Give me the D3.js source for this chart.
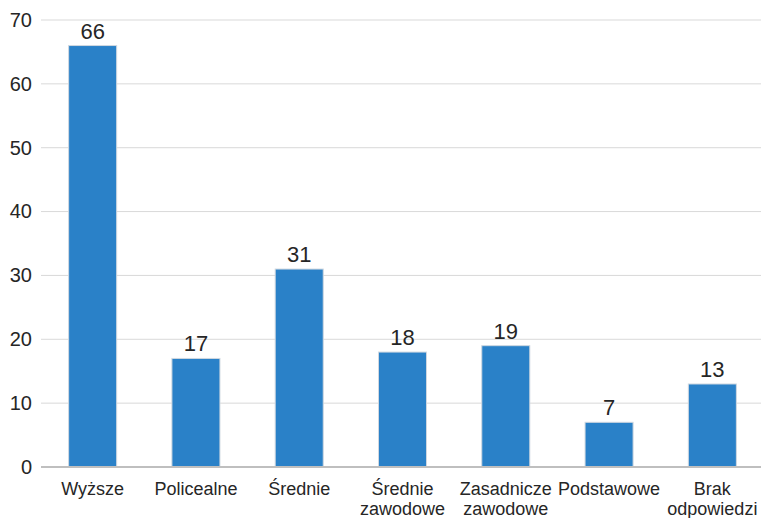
<!DOCTYPE html>
<html>
<head>
<meta charset="utf-8">
<script src="https://cdn.jsdelivr.net/npm/d3@7/dist/d3.min.js"></script>
<style>
  html, body { margin: 0; padding: 0; background: #fff; }
  svg { display: block; font-family: "Liberation Sans", Arial, sans-serif; }
</style>
</head>
<body>
<svg id="chart" width="761" height="518"></svg>
<script>
// Education levels and respondent counts
const categories = [
  ["Wyższe"],
  ["Policealne"],
  ["Średnie"],
  ["Średnie", "zawodowe"],
  ["Zasadnicze", "zawodowe"],
  ["Podstawowe"],
  ["Brak", "odpowiedzi"]
];
const values = [66, 17, 31, 18, 19, 7, 13];
const yTicks = [0, 10, 20, 30, 40, 50, 60, 70];

const W = 761, H = 518;
const margin = { left: 41, top: 20, bottom: 51 };

const svg = d3.select("#chart");

// Band range runs slightly past the right edge so the last bar sits like the rest
const x = d3.scaleBand()
  .domain(d3.range(categories.length))
  .range([margin.left, 764])
  .paddingInner(0.535)
  .paddingOuter(0.2675);

const y = d3.scaleLinear()
  .domain([0, 70])
  .range([H - margin.bottom, margin.top]);

// Horizontal gridlines
svg.append("g")
  .selectAll("line")
  .data(yTicks.filter(t => t > 0))
  .join("line")
  .attr("x1", margin.left)
  .attr("x2", W)
  .attr("y1", d => y(d))
  .attr("y2", d => y(d))
  .attr("stroke", "#d9d9d9")
  .attr("stroke-width", 1);

// Y axis labels
const yAxis = d3.axisLeft(y).tickValues(yTicks).tickSize(0).tickPadding(9);
const yg = svg.append("g")
  .attr("transform", `translate(${margin.left},0)`)
  .call(yAxis);
yg.select(".domain").remove();
yg.selectAll("text")
  .attr("font-size", 20)
  .attr("font-family", "Liberation Sans, Arial, sans-serif")
  .attr("fill", "#262626");

// Bars
svg.append("g")
  .selectAll("rect")
  .data(values)
  .join("rect")
  .attr("x", (d, i) => x(i))
  .attr("y", d => y(d))
  .attr("width", x.bandwidth())
  .attr("height", d => y(0) - y(d))
  .attr("fill", "#2a81c8")
  .attr("stroke", "#d0d8e0")
  .attr("stroke-width", 1);

// Baseline
svg.append("line")
  .attr("x1", margin.left)
  .attr("x2", W)
  .attr("y1", y(0))
  .attr("y2", y(0))
  .attr("stroke", "#bfbfbf")
  .attr("stroke-width", 2);

// Value labels
svg.append("g")
  .selectAll("text")
  .data(values)
  .join("text")
  .attr("x", (d, i) => x(i) + x.bandwidth() / 2)
  .attr("y", d => y(d) - 7)
  .attr("text-anchor", "middle")
  .attr("font-size", 22)
  .attr("fill", "#262626")
  .text(d => d);

// Category labels
const xl = svg.append("g")
  .selectAll("text")
  .data(categories)
  .join("text")
  .attr("x", (d, i) => x(i) + x.bandwidth() / 2)
  .attr("y", y(0) + 28)
  .attr("text-anchor", "middle")
  .attr("font-size", 18)
  .attr("fill", "#262626");
xl.selectAll("tspan")
  .data(d => d)
  .join("tspan")
  .attr("x", function () { return d3.select(this.parentNode).attr("x"); })
  .attr("dy", (d, i) => i === 0 ? 0 : 19.5)
  .text(d => d);
</script>
</body>
</html>
